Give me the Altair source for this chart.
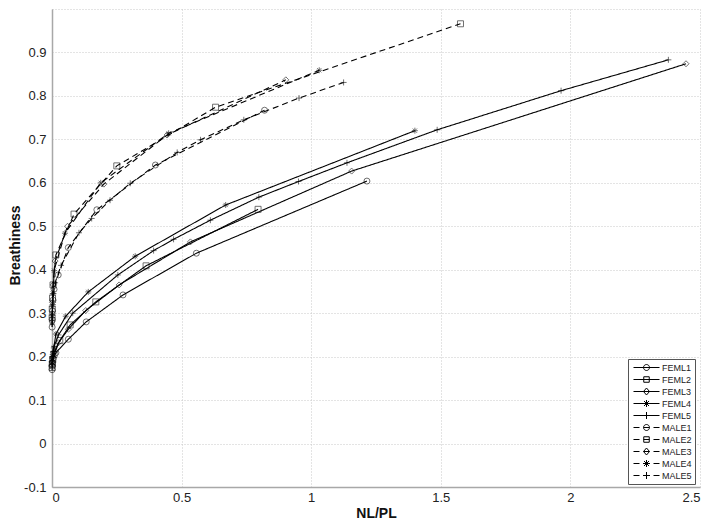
import altair as alt
import pandas as pd

series_names = ["FEML1", "FEML2", "FEML3", "FEML4", "FEML5",
                "MALE1", "MALE2", "MALE3", "MALE4", "MALE5"]

feml1_x = [0.0005, 0.001, 0.002, 0.005, 0.015, 0.063, 0.132, 0.274, 0.557, 1.215]
feml1_y = [0.170, 0.178, 0.186, 0.196, 0.209, 0.240, 0.280, 0.342, 0.438, 0.604]

feml2_x = [0.0005, 0.001, 0.003, 0.008, 0.030, 0.070, 0.169, 0.363, 0.795]
feml2_y = [0.175, 0.183, 0.193, 0.205, 0.237, 0.273, 0.326, 0.409, 0.539]

feml3_x = [0.0005, 0.001, 0.003, 0.008, 0.025, 0.063, 0.130, 0.259, 0.534, 1.156, 2.446]
feml3_y = [0.180, 0.188, 0.198, 0.210, 0.232, 0.263, 0.306, 0.365, 0.464, 0.627, 0.874]

feml4_x = [0.0005, 0.001, 0.003, 0.007, 0.015, 0.053, 0.140, 0.321, 0.670, 1.400]
feml4_y = [0.185, 0.195, 0.205, 0.220, 0.252, 0.293, 0.349, 0.431, 0.549, 0.720]

feml5_x = [0.0005, 0.001, 0.004, 0.008, 0.025, 0.080, 0.254, 0.392, 0.469, 0.611,
           0.798, 0.951, 1.138, 1.486, 1.964, 2.378]
feml5_y = [0.190, 0.200, 0.212, 0.223, 0.250, 0.300, 0.388, 0.444, 0.470, 0.514,
           0.567, 0.603, 0.646, 0.722, 0.812, 0.883]

male1_x = [0.0005, 0.001, 0.002, 0.004, 0.008, 0.024, 0.063, 0.173, 0.399, 0.820]
male1_y = [0.268, 0.285, 0.305, 0.330, 0.355, 0.388, 0.451, 0.538, 0.641, 0.767]

male2_x = [0.0005, 0.001, 0.002, 0.004, 0.015, 0.085, 0.250, 0.631, 1.576]
male2_y = [0.290, 0.310, 0.335, 0.365, 0.434, 0.528, 0.639, 0.774, 0.966]

male3_x = [0.0005, 0.001, 0.002, 0.005, 0.012, 0.060, 0.200, 0.444, 0.902]
male3_y = [0.280, 0.300, 0.325, 0.365, 0.420, 0.500, 0.597, 0.710, 0.837]

male4_x = [0.0005, 0.001, 0.003, 0.008, 0.050, 0.188, 0.450, 1.031]
male4_y = [0.290, 0.315, 0.345, 0.398, 0.484, 0.600, 0.714, 0.859]

male5_x = [0.0005, 0.001, 0.003, 0.006, 0.012, 0.035, 0.104, 0.153, 0.224, 0.302,
           0.483, 0.573, 0.740, 0.953, 1.125]
male5_y = [0.275, 0.295, 0.320, 0.345, 0.370, 0.410, 0.485, 0.518, 0.560, 0.599,
           0.670, 0.699, 0.745, 0.795, 0.831]

x_ticks = [0, 0.5, 1, 1.5, 2, 2.5]
y_ticks = [-0.1, 0, 0.1, 0.2, 0.3, 0.4, 0.5, 0.6, 0.7, 0.8, 0.9, 1.0]

all_x = [feml1_x, feml2_x, feml3_x, feml4_x, feml5_x, male1_x, male2_x, male3_x, male4_x, male5_x]
all_y = [feml1_y, feml2_y, feml3_y, feml4_y, feml5_y, male1_y, male2_y, male3_y, male4_y, male5_y]

rows = []
for name, xs, ys in zip(series_names, all_x, all_y):
    sex = "F" if name.startswith("FEML") else "M"
    for xv, yv in zip(xs, ys):
        rows.append({"series": name, "label": name, "sex": sex, "x": xv, "y": yv})
df = pd.DataFrame(rows)

# marker shapes (unit coordinates) used inside the legend symbols
circ = "M0.6,0A0.6,0.6,0,1,1,-0.6,0A0.6,0.6,0,1,1,0.6,0Z"
sq = "M-0.55,-0.55L0.55,-0.55L0.55,0.55L-0.55,0.55Z"
dia = "M0,-0.7L0.6,0L0,0.7L-0.6,0Z"
ast = "M-0.7,0L0.7,0M0,-0.7L0,0.7M-0.5,-0.5L0.5,0.5M-0.5,0.5L0.5,-0.5"
plus = "M-0.7,0L0.7,0M0,-0.7L0,0.7"
markers = [circ, sq, dia, ast, plus]

point_shapes = ["circle", "square", "diamond",
                "M-1,0L1,0M0,-1L0,1M-0.7,-0.7L0.7,0.7M-0.7,0.7L0.7,-0.7",
                "M-1,0L1,0M0,-1L0,1"] * 2

solid_line = "M-2.6,0L2.6,0"
dash_line = "M-2.6,0L-1.4,0M-0.6,0L0.6,0M1.4,0L2.6,0"
legend_shapes = [solid_line + m for m in markers] + [dash_line + m for m in markers]

font = "Liberation Sans"

x_enc = alt.X("x:Q", scale=alt.Scale(domain=[0, 2.5], nice=False, zero=False),
              axis=alt.Axis(values=x_ticks, title="NL/PL", format="~g",
                            titleX=324, titleY=26, titleBaseline="middle"))
y_enc = alt.Y("y:Q", scale=alt.Scale(domain=[-0.1, 1.0], nice=False, zero=False),
              axis=alt.Axis(values=y_ticks, title="Breathiness",
                            labelExpr="datum.value > 0.95 ? '' : replace(format(datum.value, '.1~f'), '\u2212', '-')",
                            titleX=-37, titleY=236, titleBaseline="middle"))

lines = alt.Chart(df).mark_line(color="black", strokeWidth=1.1).encode(
    x=x_enc, y=y_enc,
    detail="series:N",
    strokeDash=alt.StrokeDash("sex:N", scale=alt.Scale(domain=["F", "M"], range=[[1, 0], [6, 4]]), legend=None),
)

points = alt.Chart(df).mark_point(filled=False, color="black", strokeWidth=0.8, size=36).encode(
    x="x:Q", y="y:Q",
    shape=alt.Shape("series:N", scale=alt.Scale(domain=series_names, range=point_shapes), legend=None),
)

legend_layer = alt.Chart(df).mark_point(filled=False, color="black", opacity=0, size=100).encode(
    x="x:Q", y="y:Q",
    shape=alt.Shape("label:N", scale=alt.Scale(domain=series_names, range=legend_shapes),
                    legend=alt.Legend(title=None, orient="none", legendX=576, legendY=350,
                                      fillColor="white", strokeColor="#555555", padding=3,
                                      labelFont=font, labelFontSize=9, labelColor="#222222",
                                      symbolSize=100, symbolStrokeWidth=1, symbolStrokeColor="black",
                                      symbolFillColor="transparent", symbolOpacity=1,
                                      rowPadding=1, symbolOffset=10, labelOffset=10)),
)

chart = alt.layer(lines, points, legend_layer).resolve_scale(shape="independent").properties(
    width=648, height=478,
    autosize=alt.AutoSizeParams(type="none"),
    padding={"left": 44, "top": 1, "right": 6, "bottom": 36},
).configure_view(stroke=None).configure_axis(
    labelFont=font, labelFontSize=13, labelColor="#222222",
    titleFont=font, titleFontSize=14, titleFontWeight="bold", titleColor="#111111",
    grid=True, gridColor="#c8c8c8", gridDash=[1, 2], gridWidth=1,
    domainColor="#a8a8a8", domainWidth=1.5, ticks=False, labelPadding=6,
).configure_axisX(labelPadding=4)

chart.save("out.html", embed_options={"renderer": "svg", "actions": False})
